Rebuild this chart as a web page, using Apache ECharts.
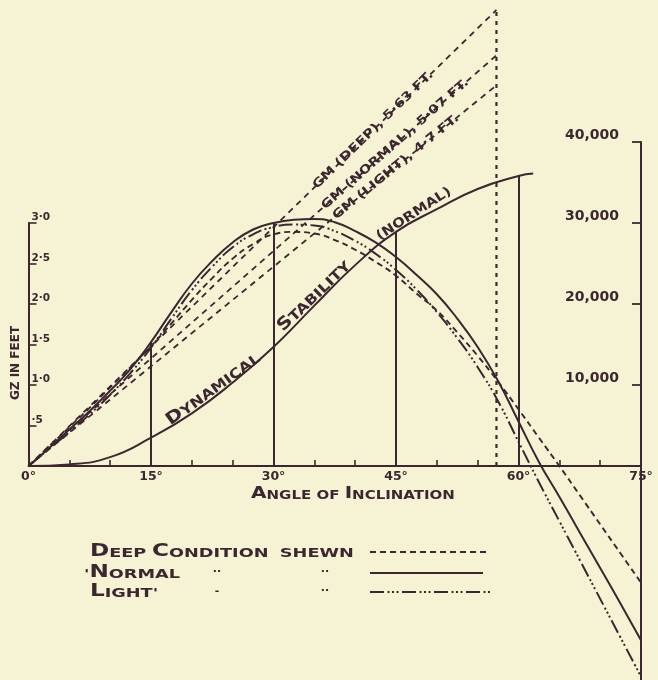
<!DOCTYPE html>
<html><head><meta charset="utf-8">
<script src="https://cdn.jsdelivr.net/npm/echarts@6/dist/echarts.min.js"></script>
<style>html,body{margin:0;padding:0;background:#f6f2d4;} #c{width:658px;height:680px;}</style>
</head><body><div id="c"></div>
<script>
// ---------------- data ----------------
const angles = [0,2.5,5,7.5,10,12.5,15,17.5,20,22.5,25,27.5,30,32.5,35,37.5,40,42.5,45,47.5,50,52.5,55,57.5,60,62.5,65,67.5,70,72.5,75];
const gzNormal = [0,0.22,0.45,0.68,0.93,1.2,1.53,1.9,2.25,2.53,2.76,2.92,3.0,3.04,3.05,3.01,2.9,2.76,2.58,2.36,2.12,1.82,1.47,1.05,0.55,0.05,-0.38,-0.82,-1.26,-1.7,-2.15];
const gzDeep   = [0,0.24,0.48,0.72,0.97,1.22,1.48,1.76,2.05,2.32,2.56,2.74,2.86,2.89,2.87,2.79,2.67,2.52,2.35,2.13,1.92,1.65,1.36,1.04,0.7,0.35,0.0,-0.36,-0.72,-1.08,-1.44];
const gzLight  = [0,0.21,0.42,0.64,0.88,1.15,1.46,1.82,2.17,2.46,2.7,2.86,2.95,2.98,2.97,2.9,2.78,2.62,2.42,2.18,1.9,1.58,1.22,0.8,0.3,-0.2,-0.68,-1.16,-1.64,-2.12,-2.6];
const dynAngles = [0,5,10,15,20,25,30,35,40,45,50,55,60,61.8];
const dynNormal = [0,200,1100,3500,6500,10300,14700,19800,24800,28900,31700,34200,35800,36100];
const gmConditions = ['DEEP','NORMAL','LIGHT'];
const gmValues = [5.63,5.07,4.7];
const gmLabels = ['GM (DEEP), 5·63 FT.','GM (NORMAL), 5·07 FT.','GM (LIGHT), 4·7 FT.'];
const gmLabelAngles = [42.2,44.9,45.0];
const oneRadianDeg = 57.3;
const ordinateAngles = [15,30,45,60];
const xLabelInterval = 15;
const xMinorTicks = [5,10,20,25,35,40,50,55,65,70];
const gzTicks = [0.5,1,1.5,2,2.5,3];
const gzTickLabels = ['·5','1·0','1·5','2·0','2·5','3·0'];
const dynTicks = [10000,20000,30000,40000];
const dynTickLabels = ['10,000','20,000','30,000','40,000'];

// ---------------- style / layout ----------------
const INK = '#3b2730';
const PAPER = '#f6f2d4';
const FAM = '"DejaVu Sans"';
const X0 = 28.5, XW = 612.5, Y0 = 466, PXFT = 81, BOTTOM = 680;
const GZ_MIN = -2.64, GZ_MAX = 5.7, DYN_PER_FT = 10000;

const zip = (xs, ys) => xs.map((x, i) => [x, ys[i]]);
const valAt = (xs, ys, a) => ys[xs.indexOf(a)];
const lookup = (vals, labels, v) => { for (let i = 0; i < vals.length; i++) if (Math.abs(vals[i] - v) < 1e-6) return labels[i]; return ''; };
const ordinateTop = a => Math.max(valAt(angles, gzNormal, a), valAt(dynAngles, dynNormal, a) / DYN_PER_FT);

const lightDash = [14, 3.5, 2, 2.5, 2, 2.5, 2, 3.5];
const deepDash = [6, 4];

const chart = echarts.init(document.getElementById('c'), null, {renderer: 'canvas'});

const option = {
  backgroundColor: PAPER,
  animation: false,
  grid: [
    {left: X0, width: XW, top: Y0 - GZ_MAX * PXFT, height: (GZ_MAX - GZ_MIN) * PXFT, containLabel: false, outerBoundsMode: 'none'},
    {left: X0, width: XW, top: Y0 - 3 * PXFT, height: 3 * PXFT, containLabel: false, outerBoundsMode: 'none'},
    {left: X0, width: XW, top: Y0 - 4 * PXFT, height: BOTTOM - (Y0 - 4 * PXFT), containLabel: false, outerBoundsMode: 'none'}
  ],
  xAxis: [
    {type: 'value', gridIndex: 0, min: 0, max: 75, show: false},
    {
      type: 'value', gridIndex: 1, min: 0, max: 75, interval: xLabelInterval, position: 'bottom',
      axisLine: {show: true, onZero: false, lineStyle: {color: INK, width: 2}},
      axisTick: {show: true, inside: true, length: 6, customValues: xMinorTicks, lineStyle: {color: INK, width: 1.6}},
      axisLabel: {show: true, formatter: v => v + '°', color: INK, showMinLabel: true, showMaxLabel: true,
        fontFamily: FAM, fontWeight: 'bold', fontSize: 12.5, margin: 4},
      splitLine: {show: false}
    },
    {type: 'value', gridIndex: 2, min: 0, max: 75, show: false}
  ],
  yAxis: [
    {type: 'value', gridIndex: 0, min: GZ_MIN, max: GZ_MAX, show: false},
    {type: 'value', gridIndex: 0, min: GZ_MIN * DYN_PER_FT, max: GZ_MAX * DYN_PER_FT, show: false},
    {
      type: 'value', gridIndex: 1, min: 0, max: 3, position: 'left',
      axisLine: {show: true, onZero: false, lineStyle: {color: INK, width: 2}},
      axisTick: {show: true, inside: true, length: 8, customValues: gzTicks, lineStyle: {color: INK, width: 1.6}},
      axisLabel: {show: true, inside: true, customValues: gzTicks, formatter: v => lookup(gzTicks, gzTickLabels, v),
        verticalAlign: 'bottom', margin: 3, color: INK, fontFamily: FAM, fontWeight: 'bold', fontSize: 10.5},
      splitLine: {show: false}
    },
    {
      type: 'value', gridIndex: 2, min: -(BOTTOM - Y0) / PXFT * DYN_PER_FT, max: 40000, position: 'right',
      axisLine: {show: true, onZero: false, lineStyle: {color: INK, width: 2}},
      axisTick: {show: true, inside: true, length: 9, customValues: dynTicks, lineStyle: {color: INK, width: 1.8}},
      axisLabel: {show: true, inside: true, customValues: dynTicks, formatter: v => lookup(dynTicks, dynTickLabels, v),
        verticalAlign: 'bottom', margin: 22, color: INK, fontFamily: FAM, fontWeight: 'bold', fontSize: 14},
      splitLine: {show: false}
    }
  ],
  series: [
    {
      name: 'GZ Normal', type: 'line', xAxisIndex: 0, yAxisIndex: 0, data: zip(angles, gzNormal),
      smooth: true, showSymbol: false, silent: true,
      lineStyle: {color: INK, width: 2},
      markLine: {
        symbol: ['none', 'none'], silent: true, animation: false, label: {show: false},
        lineStyle: {color: INK, width: 2, type: 'solid'},
        data: ordinateAngles.map(a => [{coord: [a, 0]}, {coord: [a, ordinateTop(a)]}])
      }
    },
    {name: 'GZ Deep', type: 'line', xAxisIndex: 0, yAxisIndex: 0, data: zip(angles, gzDeep),
      smooth: true, showSymbol: false, silent: true, lineStyle: {color: INK, width: 1.9, type: deepDash}},
    {name: 'GZ Light', type: 'line', xAxisIndex: 0, yAxisIndex: 0, data: zip(angles, gzLight),
      smooth: true, showSymbol: false, silent: true, lineStyle: {color: INK, width: 2, type: lightDash}},
    {name: 'Dynamical Stability (Normal)', type: 'line', xAxisIndex: 0, yAxisIndex: 1, data: zip(dynAngles, dynNormal),
      smooth: true, showSymbol: false, silent: true, lineStyle: {color: INK, width: 2}},
    ...gmValues.map((gm, i) => ({
      name: 'GM ' + gmConditions[i], type: 'line', xAxisIndex: 0, yAxisIndex: 0,
      data: [[0, 0], [oneRadianDeg, gm]], showSymbol: false, silent: true,
      lineStyle: {color: INK, width: 1.8, type: [6, 5]}
    })),
    {name: 'One radian', type: 'line', xAxisIndex: 0, yAxisIndex: 0,
      data: [[oneRadianDeg, 0], [oneRadianDeg, Math.max(...gmValues)]], showSymbol: false, silent: true,
      lineStyle: {color: INK, width: 2.2, type: [4, 5]}}
  ]
};
chart.setOption(option);

// ---------------- text annotations ----------------
const txt = (s, extra) => Object.assign({fill: INK, font: 'bold 12px ' + FAM, align: 'center', verticalAlign: 'middle'}, extra, {text: s});
const rich = (b, s) => ({
  b: {font: 'bold ' + b + 'px ' + FAM, fill: INK, verticalAlign: 'bottom'},
  s: {font: 'bold ' + s + 'px ' + FAM, fill: INK, verticalAlign: 'bottom'}
});
const deg = d => d * Math.PI / 180;

const graphics = [];
graphics.push({type: 'text', x: 16, y: 363, rotation: deg(90), silent: true, style: txt('GZ IN FEET', {font: 'bold 12px ' + FAM})});
graphics.push({type: 'text', x: 353, y: 494, scaleX: 1.25, silent: true,
  style: txt('{b|A}{s|NGLE} {s|OF} {b|I}{s|NCLINATION}', {font: 'bold 12px ' + FAM, rich: rich(16, 12)})});

// Dynamical stability words along the curve
graphics.push({type: 'text', x: 213, y: 389, rotation: deg(36), scaleX: 1.2, silent: true,
  style: txt('{b|D}{s|YNAMICAL}', {font: 'bold 13px ' + FAM, rich: rich(17, 13.5)})});
graphics.push({type: 'text', x: 314, y: 296, rotation: deg(44), scaleX: 1.2, silent: true,
  style: txt('{b|S}{s|TABILITY}', {font: 'bold 13px ' + FAM, rich: rich(17, 13.5)})});
graphics.push({type: 'text', x: 414, y: 214, rotation: deg(33), scaleX: 1.15, silent: true,
  style: txt('(NORMAL)', {font: 'bold 13px ' + FAM})});

// GM labels placed on their tangent lines
gmValues.forEach((gm, i) => {
  const p0 = chart.convertToPixel({seriesIndex: 4 + i}, [0, 0]);
  const p1 = chart.convertToPixel({seriesIndex: 4 + i}, [oneRadianDeg, gm]);
  const a = gmLabelAngles[i];
  const pc = chart.convertToPixel({seriesIndex: 4 + i}, [a, gm * a / oneRadianDeg]);
  const rot = Math.atan2(p0[1] - p1[1], p1[0] - p0[0]);
  graphics.push({type: 'text', x: pc[0], y: pc[1], rotation: rot, scaleX: 1.22, silent: true,
    style: txt(gmLabels[i], {font: 'bold 12px ' + FAM, backgroundColor: PAPER, padding: [0, 3]})});
});

// Legend
const legendRows = [
  {y: 552, text: '{b|D}{s|EEP} {b|C}{s|ONDITION}  {s|SHEWN}', x: 90, dash: deepDash, x2: 487, d1: '', d2: ''},
  {y: 573, text: "{s|'}{b|N}{s|ORMAL}", x: 84, dash: 'solid', x2: 483, d1: '··', d2: '··'},
  {y: 592, text: "{b|L}{s|IGHT'}", x: 90, dash: lightDash, x2: 492, d1: '-', d2: '··'}
];
legendRows.forEach(r => {
  graphics.push({type: 'text', x: r.x, y: r.y, scaleX: 1.36, silent: true,
    style: txt(r.text, {font: 'bold 12px ' + FAM, align: 'left', rich: rich(17, 13)})});
  if (r.d1) graphics.push({type: 'text', x: 217, y: r.y - 1, silent: true, style: txt(r.d1, {font: 'bold 11px ' + FAM})});
  if (r.d2) graphics.push({type: 'text', x: 325, y: r.y - 1, silent: true, style: txt(r.d2, {font: 'bold 11px ' + FAM})});
  graphics.push({type: 'line', silent: true, shape: {x1: 370, y1: r.y, x2: r.x2, y2: r.y},
    style: {stroke: INK, lineWidth: 2, lineDash: r.dash === 'solid' ? null : r.dash}});
});

chart.setOption({graphic: graphics});
</script>
</body></html>
